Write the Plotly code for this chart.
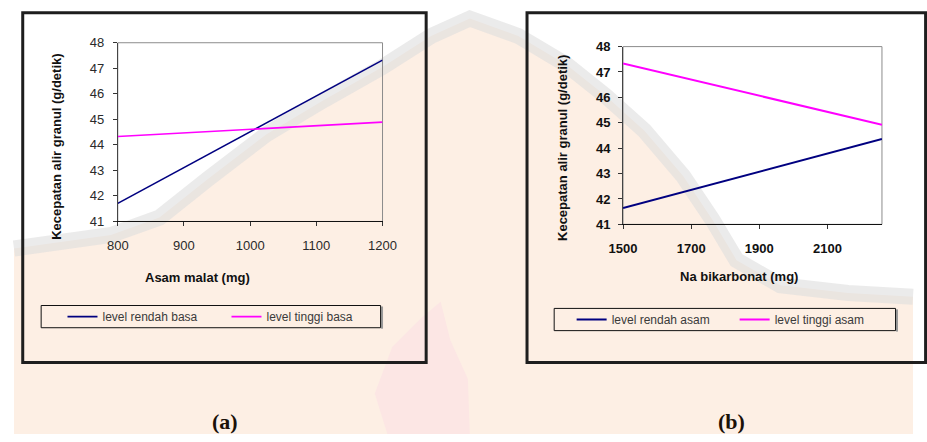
import plotly.graph_objects as go

# ---- data -------------------------------------------------------------
# (a) effect of asam malat at the two levels of basa
asam_malat_mg = [800, 1200]
a_level_rendah_basa = [41.71, 47.32]
a_level_tinggi_basa = [44.33, 44.89]
a_xticks = [800, 900, 1000, 1100, 1200]

# (b) effect of Na bikarbonat at the two levels of asam
na_bikarbonat_mg = [1500, 2260]
b_level_rendah_asam = [41.64, 44.36]
b_level_tinggi_asam = [47.34, 44.92]
b_xticks = [1500, 1700, 1900, 2100]

y_ticks = [41, 42, 43, 44, 45, 46, 47, 48]

W, H = 927, 442
NAVY = "#000080"
MAGENTA = "#FF00FF"


def px(x):
    return x / W


def py(y):
    return 1 - y / H


def path(pts, close=True):
    s = "M " + " L ".join(f"{px(x):.4f},{py(y):.4f}" for x, y in pts)
    return s + (" Z" if close else "")


fig = go.Figure()

fig.add_trace(go.Scatter(x=asam_malat_mg, y=a_level_rendah_basa, mode="lines",
                         name="level rendah basa", line=dict(color=NAVY, width=1.6),
                         xaxis="x", yaxis="y", legend="legend"))
fig.add_trace(go.Scatter(x=asam_malat_mg, y=a_level_tinggi_basa, mode="lines",
                         name="level tinggi basa", line=dict(color=MAGENTA, width=1.6),
                         xaxis="x", yaxis="y", legend="legend"))
fig.add_trace(go.Scatter(x=na_bikarbonat_mg, y=b_level_rendah_asam, mode="lines",
                         name="level rendah asam", line=dict(color=NAVY, width=2),
                         xaxis="x2", yaxis="y2", legend="legend2"))
fig.add_trace(go.Scatter(x=na_bikarbonat_mg, y=b_level_tinggi_asam, mode="lines",
                         name="level tinggi asam", line=dict(color=MAGENTA, width=2),
                         xaxis="x2", yaxis="y2", legend="legend2"))

shapes = []

# faint background emblem
peach = [(0, 250), (100, 236), (150, 218), (200, 178), (260, 132), (320, 96),
         (380, 62), (430, 30), (470, 12), (520, 30), (570, 60), (610, 92),
         (650, 128), (690, 175), (720, 220), (745, 262), (790, 288),
         (860, 296), (927, 300), (927, 442), (0, 442)]
shapes.append(dict(type="path", xref="paper", yref="paper", path=path(peach),
                   fillcolor="#FDEFE4", line=dict(width=0), layer="below"))
shapes.append(dict(type="path", xref="paper", yref="paper",
                   path=path(peach[:19], close=False),
                   line=dict(color="rgba(222,222,222,0.6)", width=16), layer="below"))
flame = [(385, 442), (372, 400), (390, 352), (420, 322), (440, 305), (450, 345),
         (468, 385), (470, 442)]
shapes.append(dict(type="path", xref="paper", yref="paper", path=path(flame),
                   fillcolor="#FCE6E4", line=dict(width=0), layer="below"))

# outer chart frames
shapes.append(dict(type="rect", xref="paper", yref="paper",
                   x0=px(9), x1=px(425), y0=py(368), y1=py(6),
                   line=dict(color="#1E1E1E", width=3), layer="below"))
shapes.append(dict(type="rect", xref="paper", yref="paper",
                   x0=px(529), x1=px(940), y0=py(368), y1=py(6),
                   line=dict(color="#1E1E1E", width=3), layer="below"))

# plot-area borders
for xr, yr in (("x domain", "y domain"), ("x2 domain", "y2 domain")):
    shapes.append(dict(type="rect", xref=xr, yref=yr, x0=0, x1=1, y0=0, y1=1,
                       line=dict(color="#8C8C8C", width=1), layer="below"))

# legend boxes with a soft shadow on the right edge
for x0, x1, y0, y1 in ((28, 378, 309, 332), (557, 909, 312, 335)):
    shapes.append(dict(type="line", xref="paper", yref="paper",
                       x0=px(x1 + 1.5), x1=px(x1 + 1.5), y0=py(y1 + 1), y1=py(y0 + 1),
                       line=dict(color="#9A9A9A", width=2), layer="below"))
    shapes.append(dict(type="rect", xref="paper", yref="paper",
                       x0=px(x0), x1=px(x1), y0=py(y1), y1=py(y0),
                       line=dict(color="#111111", width=1), layer="below"))

axis_common = dict(showgrid=False, zeroline=False, showline=True, ticks="outside",
                   ticklen=4, tickwidth=1)

tick_a = dict(family="Arial, Liberation Sans", size=13, color="#2A2A2A")
tick_b = dict(family="Arial, Liberation Sans", size=13, color="#111111", weight="bold")

annotations = [
    dict(text="<b>Asam malat (mg)</b>", x=px(189), y=py(280)),
    dict(text="<b>Kecepatan alir granul (g/detik)</b>", x=px(43), y=py(145), textangle=-90),
    dict(text="<b>Na bikarbonat (mg)</b>", x=px(748), y=py(279)),
    dict(text="<b>Kecepatan alir granul (g/detik)</b>", x=px(565), y=py(146), textangle=-90),
]
for a in annotations:
    a.update(xref="paper", yref="paper", xanchor="center", yanchor="middle",
             showarrow=False, font=dict(family="Arial, Liberation Sans", size=13, color="#111111"))

for lab, cx in (("(a)", 218), ("(b)", 740)):
    annotations.append(dict(text=f"<b>{lab}</b>", x=px(cx), y=py(429), xref="paper", yref="paper",
                            xanchor="center", yanchor="middle", showarrow=False,
                            font=dict(family="Liberation Serif, Times New Roman", size=22,
                                      color="#1A1108")))

legend_font = dict(family="Arial, Liberation Sans", size=12, color="#3A3A3A")

fig.update_layout(
    width=W, height=H,
    margin=dict(l=0, r=0, t=0, b=0),
    paper_bgcolor="white",
    plot_bgcolor="rgba(0,0,0,0)",
    xaxis=dict(domain=[px(107), px(380)], range=[800, 1200], tickvals=a_xticks,
               anchor="y", linecolor="#111111", tickcolor="#333333",
               tickfont=tick_a, ticklabelstandoff=8, **axis_common),
    yaxis=dict(domain=[py(222), py(37)], range=[41, 48], tickvals=y_ticks,
               anchor="x", linecolor="#444444", tickcolor="#333333",
               tickfont=tick_a, ticklabelstandoff=6, **axis_common),
    xaxis2=dict(domain=[px(628), px(895)], range=[1500, 2260], tickvals=b_xticks,
                anchor="y2", linecolor="#111111", tickcolor="#333333",
                tickfont=tick_b, ticklabelstandoff=8, **axis_common),
    yaxis2=dict(domain=[py(225), py(41)], range=[41, 48], tickvals=y_ticks,
                anchor="x2", linecolor="#444444", tickcolor="#333333",
                tickfont=tick_b, ticklabelstandoff=5, **axis_common),
    legend=dict(orientation="h", x=px(50), y=py(320.5), xanchor="left", yanchor="middle",
                bgcolor="rgba(0,0,0,0)", borderwidth=0, font=legend_font,
                entrywidth=119, entrywidthmode="pixels", itemclick=False),
    legend2=dict(orientation="h", x=px(575), y=py(323.5), xanchor="left", yanchor="middle",
                 bgcolor="rgba(0,0,0,0)", borderwidth=0, font=legend_font,
                 entrywidth=118, entrywidthmode="pixels", itemclick=False),
    shapes=shapes,
    annotations=annotations,
    showlegend=True,
)

fig.write_html("out.html")
